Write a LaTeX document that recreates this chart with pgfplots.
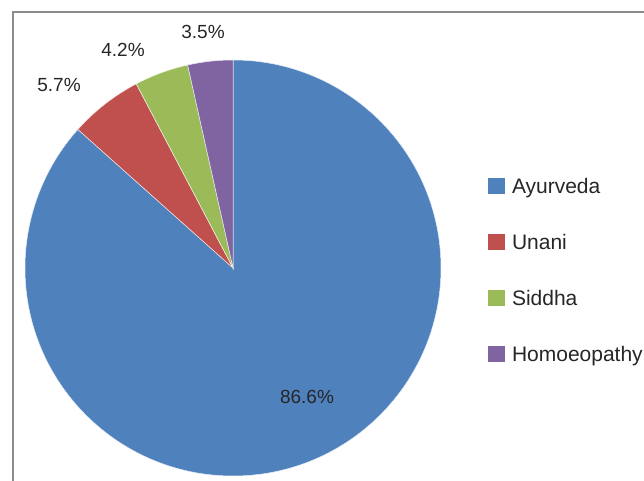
\documentclass[border=0pt]{standalone}
\usepackage{pgfplots}
\pgfplotsset{compat=1.18}
\usepackage{fontspec}
\setmainfont{Liberation Sans}

\definecolor{ayur}{HTML}{4F81BD}
\definecolor{unani}{HTML}{C0504D}
\definecolor{siddha}{HTML}{9BBB59}
\definecolor{homoeo}{HTML}{8064A2}
\definecolor{frame}{HTML}{8C8C8C}
\definecolor{txt}{HTML}{262626}

\begin{document}
\begin{tikzpicture}
\useasboundingbox (0,0) rectangle (322pt,240.5pt);
\clip (0,0) rectangle (322pt,240.5pt);
\begin{axis}[
  x=0.5pt, y=0.5pt,
  xmin=-233, xmax=411, ymin=-213, ymax=268,
  hide axis, clip=false,
  legend cell align=left,
  legend image code/.code={\fill[#1, draw=none] (0pt,-4pt) rectangle (8.5pt,4pt);},
  legend style={
    at={(axis cs:255,90)}, anchor=north west,
    draw=none, fill=none, inner sep=0pt, outer sep=0pt,
    font=\fontsize{10.5}{12}\selectfont, text=txt,
    row sep=20pt, column sep=3.5pt,
    nodes={inner sep=0pt, text height=8pt, text depth=0pt},
  },
]

% frame of the original figure (left and top edges only)
\draw[frame, line width=1pt] (-220,-213) -- (-220,256) -- (411,256);

% wedges, clockwise from 12 o'clock, shares in percent
\pgfmathsetmacro{\start}{90}
\foreach \v/\c in {86.6/ayur, 5.7/unani, 4.2/siddha, 3.5/homoeo}{
  \pgfmathsetmacro{\stop}{\start-3.6*\v}
  \edef\wedge{\noexpand\fill[\c, draw=white!85!\c, line width=0.25pt]
    (0,0) -- ++(\start:104pt)
    arc[start angle=\start, end angle=\stop, radius=104pt] -- cycle;}
  \wedge
  \global\let\start\stop
}

\addlegendimage{fill=ayur}   \addlegendentry{Ayurveda}
\addlegendimage{fill=unani}  \addlegendentry{Unani}
\addlegendimage{fill=siddha} \addlegendentry{Siddha}
\addlegendimage{fill=homoeo} \addlegendentry{Homoeopathy}

% data labels
\begin{scope}[every node/.style={font=\fontsize{9.5}{11}\selectfont, text=txt}]
  \node at (74,-129)  {86.6\%};
  \node at (-174,183) {5.7\%};
  \node at (-110,218) {4.2\%};
  \node at (-30,236)  {3.5\%};
\end{scope}

\end{axis}
\end{tikzpicture}
\end{document}
